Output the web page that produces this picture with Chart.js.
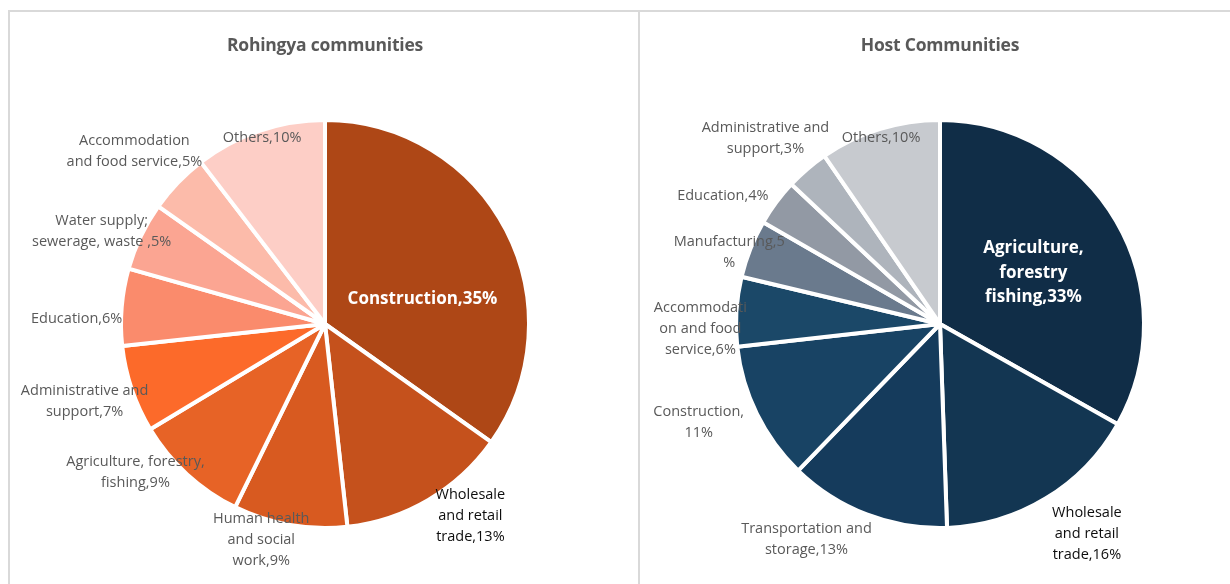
<!DOCTYPE html>
<html><head><meta charset="utf-8">
<script src="https://cdn.jsdelivr.net/npm/chart.js@4.4.0/dist/chart.umd.min.js"></script>
<style>
html,body{margin:0;padding:0;background:#fff;overflow:hidden;width:1230px;height:584px;}
#wrap{position:relative;width:1230px;height:584px;}
.ln{position:absolute;background:#d9d9d9;z-index:5;}
.title{position:absolute;top:32px;width:300px;font:bold 17.5px 'Open Sans',sans-serif;color:#595959;text-align:center;letter-spacing:-0.2px;}
canvas{position:absolute;}
</style></head>
<body><div id="wrap">
<canvas id="c1" width="650" height="584" style="left:0;top:0"></canvas>
<canvas id="c2" width="590" height="584" style="left:640px;top:0"></canvas>
<div class="ln" style="left:8px;top:10px;width:1222px;height:2px"></div>
<div class="ln" style="left:8px;top:10px;width:2px;height:574px"></div>
<div class="ln" style="left:638px;top:10px;width:2px;height:574px"></div>
<div class="title" style="left:175px">Rohingya communities</div>
<div class="title" style="left:790px">Host Communities</div>
</div>
<script>
// ---- Data ----
const rohingyaSectors = ["Construction","Wholesale and retail trade","Human health and social work","Agriculture, forestry, fishing","Administrative and support","Education","Water supply; sewerage, waste","Accommodation and food service","Others"];
const rohingyaValues = [34.8, 13.4, 9.0, 9.1, 6.9, 6.1, 5.4, 4.8, 10.4];
const hostSectors = ["Agriculture, forestry fishing","Wholesale and retail trade","Transportation and storage","Construction","Accommodation and food service","Manufacturing","Education","Administrative and support","Others"];
const hostValues = [33.2, 16.3, 12.8, 11.0, 5.5, 4.6, 3.7, 3.4, 9.6];

// ---- Label text wrapping (as in the original) ----
const rohingyaLabelLines = [
  ["Construction,{v}%"],
  ["Wholesale","and retail","trade,{v}%"],
  ["Human health","and social","work,{v}%"],
  ["Agriculture, forestry,","fishing,{v}%"],
  ["Administrative and","support,{v}%"],
  ["Education,{v}%"],
  ["Water supply;","sewerage, waste ,{v}%"],
  ["Accommodation","and food service,{v}%"],
  ["Others,{v}%"]
];
const hostLabelLines = [
  ["Agriculture,","forestry","fishing,{v}%"],
  ["Wholesale","and retail","trade,{v}%"],
  ["Transportation and","storage,{v}%"],
  ["Construction,","{v}%"],
  ["Accommodati","on and food","service,{v}%"],
  ["Manufacturing,{v}","%"],
  ["Education,{v}%"],
  ["Administrative and","support,{v}%"],
  ["Others,{v}%"]
];

// ---- Styles / layout ----
const rohingyaColors = ["#AE4716","#C5511C","#D85A20","#E76326","#FC6A2A","#FA8B6C","#FBA592","#FCBBAA","#FDCEC6"];
const hostColors = ["#102D47","#133652","#153B5C","#184364","#1B4868","#6A7A8D","#9299A4","#AEB4BC","#C7CACF"];
const rohingyaOffsets = [[-82,68],[43,18],[-29,17],[-53,-1],[-49,13],[-47,12],[-41,-6],[-45,-33],[2,5]];
const hostOffsets = [[-81,51],[42,37],[-61,27],[-60,9],[-38,17],[-23,3],[-55,-8],[-43,-32],[1,7]];
const rohingyaInside = [0];
const hostInside = [0];
const darkLabels = [1];

const labelPlugin = {
  id: 'sliceLabels',
  afterDatasetsDraw(chart, args, opts) {
    const ctx = chart.ctx;
    const meta = chart.getDatasetMeta(0);
    const vals = chart.data.datasets[0].data;
    meta.data.forEach((arc, i) => {
      const p = arc.getProps(['x','y','startAngle','endAngle','outerRadius'], true);
      const mid = (p.startAngle + p.endAngle) / 2;
      const R = p.outerRadius - 2;
      const ax = p.x + R * Math.cos(mid) + opts.offsets[i][0];
      const ay = p.y + R * Math.sin(mid) + opts.offsets[i][1];
      const inside = opts.inside.includes(i);
      const lines = opts.lines[i].map(s => s.replace('{v}', Math.round(vals[i])));
      ctx.save();
      ctx.textAlign = 'center';
      ctx.textBaseline = 'middle';
      if (inside) {
        ctx.font = "bold 17px 'Open Sans', sans-serif";
        ctx.fillStyle = '#ffffff';
      } else {
        ctx.font = "14.5px 'Open Sans', sans-serif";
        ctx.fillStyle = darkLabels.includes(i) ? '#0d0d0d' : '#595959';
      }
      const lh = inside ? 24.5 : 21;
      const y0 = ay - (lines.length - 1) * lh / 2;
      lines.forEach((t, k) => ctx.fillText(t, ax, y0 + k * lh));
      ctx.restore();
    });
  }
};

function makePie(id, labels, values, colors, lines, offsets, inside, padding) {
  return new Chart(document.getElementById(id), {
    type: 'pie',
    data: { labels: labels, datasets: [{ data: values, backgroundColor: colors, borderColor: '#ffffff', borderWidth: 4, radius: 204, hoverOffset: 0 }] },
    options: {
      responsive: false, animation: false,
      layout: { padding: padding },
      plugins: { legend: { display: false }, tooltip: { enabled: false },
        sliceLabels: { lines: lines, offsets: offsets, inside: inside } }
    },
    plugins: [labelPlugin]
  });
}
makePie('c1', rohingyaSectors, rohingyaValues, rohingyaColors, rohingyaLabelLines, rohingyaOffsets, rohingyaInside, {top: 64, left: 0, right: 0, bottom: 0});
makePie('c2', hostSectors, hostValues, hostColors, hostLabelLines, hostOffsets, hostInside, {top: 64, left: 10, right: 0, bottom: 0});
</script>
</body></html>
